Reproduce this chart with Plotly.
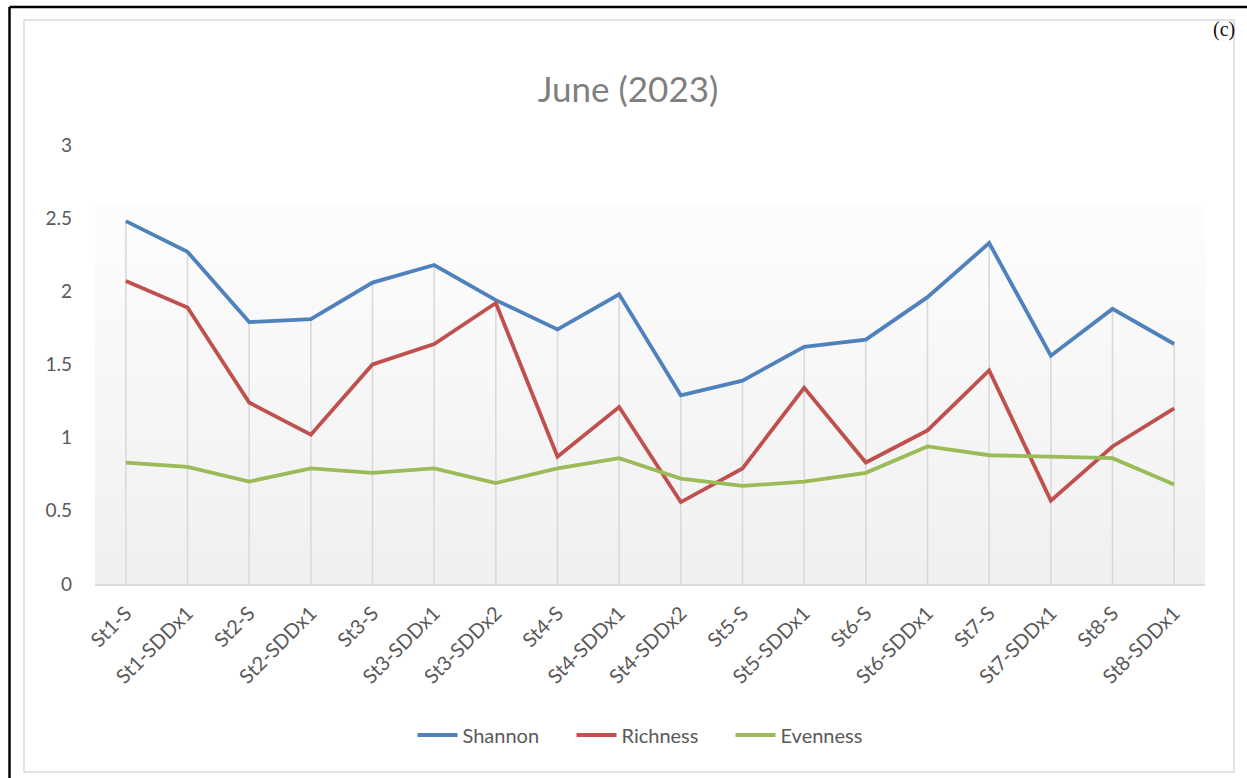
import plotly.graph_objects as go

# Sampling sites
sites = ["St1-S", "St1-SDDx1", "St2-S", "St2-SDDx1", "St3-S", "St3-SDDx1",
         "St3-SDDx2", "St4-S", "St4-SDDx1", "St4-SDDx2", "St5-S", "St5-SDDx1",
         "St6-S", "St6-SDDx1", "St7-S", "St7-SDDx1", "St8-S", "St8-SDDx1"]

# Diversity indices, June 2023
shannon = [2.48, 2.27, 1.79, 1.81, 2.06, 2.18, 1.94, 1.74, 1.98, 1.29,
           1.39, 1.62, 1.67, 1.96, 2.33, 1.56, 1.88, 1.64]
richness = [2.07, 1.89, 1.24, 1.02, 1.50, 1.64, 1.92, 0.87, 1.21, 0.56,
            0.79, 1.34, 0.83, 1.05, 1.46, 0.57, 0.94, 1.20]
evenness = [0.83, 0.80, 0.70, 0.79, 0.76, 0.79, 0.69, 0.79, 0.86, 0.72,
            0.67, 0.70, 0.76, 0.94, 0.88, 0.87, 0.86, 0.68]

y_ticks = [0, 0.5, 1, 1.5, 2, 2.5, 3]
y_tick_text = ["0", "0.5", "1", "1.5", "2", "2.5", "3"]

W, H = 1247, 778
L, R, T, B = 95, 1205, 145, 584   # plot area in pixels


def px(x):
    return (x - L) / (R - L)


def py(y):
    return (B - y) / (B - T)


GRAY_TXT = "#595959"
FONT = "Lato"

n = len(sites)
pos = list(range(n))

fig = go.Figure()

# Soft vertical gradient behind the plot
fig.add_trace(go.Scatter(
    x=[-0.5, n - 0.5, n - 0.5, -0.5, -0.5],
    y=[0, 0, 2.607, 2.607, 0],
    mode="lines", line=dict(width=0), fill="toself",
    fillgradient=dict(type="vertical",
                      colorscale=[[0, "#f0f0f0"], [1, "#fdfdfd"]]),
    hoverinfo="skip", showlegend=False,
))

# Drop lines from the highest value at each site down to the axis
drop_x, drop_y = [], []
for i in pos:
    top = max(shannon[i], richness[i], evenness[i])
    drop_x += [i, i, None]
    drop_y += [0, top, None]
fig.add_trace(go.Scatter(
    x=drop_x, y=drop_y, mode="lines",
    line=dict(color="#d9d9d9", width=1.6),
    hoverinfo="skip", showlegend=False,
))

series = [("Shannon", shannon, "#4f81bd"),
          ("Richness", richness, "#c0504d"),
          ("Evenness", evenness, "#9bbb59")]
for name, vals, col in series:
    fig.add_trace(go.Scatter(
        x=pos, y=vals, mode="lines", name=name,
        line=dict(color=col, width=3.8),
    ))

shapes = [
    # light chart frame
    dict(type="rect", xref="paper", yref="paper",
         x0=px(24), x1=px(1234), y0=py(772), y1=py(20),
         line=dict(color="#d9d9d9", width=1.5), layer="below"),
    # outer black rules (top and left)
    dict(type="line", xref="paper", yref="paper",
         x0=px(9.5), x1=px(1260), y0=py(7), y1=py(7),
         line=dict(color="black", width=2.5)),
    dict(type="line", xref="paper", yref="paper",
         x0=px(9.5), x1=px(9.5), y0=py(7), y1=py(790),
         line=dict(color="black", width=2.5)),
]

annotations = [
    dict(text="(c)", xref="paper", yref="paper", x=px(1237), y=py(29),
         xanchor="right", yanchor="middle", showarrow=False,
         font=dict(family="Liberation Serif", size=20, color="#111111")),
]

fig.update_layout(
    width=W, height=H,
    margin=dict(l=L, r=W - R, t=T, b=H - B, pad=0),
    paper_bgcolor="white", plot_bgcolor="white",
    title=dict(text="June (2023)", x=px(628), xref="paper", xanchor="center",
               y=1 - 90 / H, yanchor="middle",
               font=dict(family=FONT, size=35, color="#7f7f7f")),
    xaxis=dict(
        range=[-0.5, n - 0.5], tickvals=pos, ticktext=sites,
        showgrid=False, zeroline=False,
        showline=True, linecolor="#d9d9d9", linewidth=1.5,
        ticks="", tickangle=-45, ticklabelstandoff=8,
        tickfont=dict(family=FONT, size=20, color=GRAY_TXT),
    ),
    yaxis=dict(
        range=[0, 3], tickvals=y_ticks, ticktext=y_tick_text,
        showgrid=False, zeroline=False, showline=False, ticks="",
        ticklabelstandoff=22,
        tickfont=dict(family=FONT, size=19, color=GRAY_TXT),
    ),
    legend=dict(orientation="h", x=px(651), xanchor="center",
                y=py(735), yanchor="middle", traceorder="normal",
                font=dict(family=FONT, size=20, color=GRAY_TXT),
                itemwidth=40, entrywidth=104, entrywidthmode="pixels",
                bgcolor="rgba(0,0,0,0)"),
    shapes=shapes,
    annotations=annotations,
    showlegend=True,
)

fig.write_html("out.html")
